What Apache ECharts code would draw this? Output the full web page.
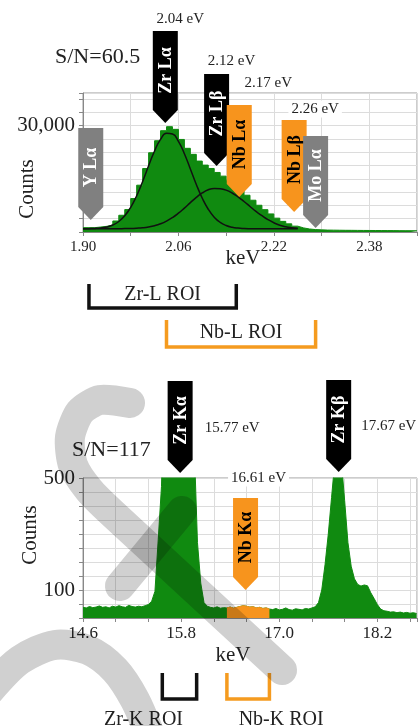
<!DOCTYPE html>
<html><head><meta charset="utf-8">
<script src="https://cdn.jsdelivr.net/npm/echarts@6/dist/echarts.min.js"></script>
<style>html,body{margin:0;padding:0;background:#fff}#c{width:420px;height:726px}</style>
</head><body><div id="c"></div>
<script>
// ================= DATA =================
// --- L-line spectrum (top), histogram bins (bin start keV) ---
const lBinStart = [1.90,1.91,1.92,1.93,1.94,1.95,1.96,1.97,1.98,1.99,
  2.00,2.01,2.02,2.03,2.04,2.05,2.06,2.07,2.08,2.09,
  2.10,2.11,2.12,2.13,2.14,2.15,2.16,2.17,2.18,2.19,
  2.20,2.21,2.22,2.23,2.24,2.25,2.26,2.27,2.28,2.29,
  2.30,2.31,2.32,2.33,2.34,2.35,2.36,2.37,2.38,2.39,
  2.40,2.41,2.42,2.43,2.44,2.45,2.46];
const lCounts = [1230,1230,1410,1600,1980,3110,4720,6320,9430,13200,
  17900,22350,25740,28570,29700,28950,26100,23600,21900,20000,
  18860,17920,16790,15750,14620,13200,11790,10370,8960,7540,
  6300,5100,3900,3000,2300,1650,1150,850,680,600,
  540,520,500,480,470,450,440,430,420,410,
  400,390,380,370,360,350,350];
// fitted peaks (Zr Lα and Zr Lβ components)
const fitKeV = [1.90,1.91,1.92,1.93,1.94,1.95,1.96,1.97,1.98,1.99,
  2.00,2.01,2.02,2.03,2.04,2.05,2.06,2.07,2.08,2.09,
  2.10,2.11,2.12,2.13,2.14,2.15,2.16,2.17,2.18,2.19,
  2.20,2.21,2.22,2.23,2.24,2.25,2.26];
const fitZrLa = [900,940,1000,1135,1420,1980,2960,4570,6970,10240,
  14260,18670,22860,26130,27840,27650,25580,22070,17790,13410,
  9520,6420,4190,2720,1840,1350,1100,985,935,915,
  905,900,900,900,900,900,900];
const fitZrLb = [900,900,900,900,905,910,930,955,990,1070,
  1190,1415,1770,2310,3070,4070,5310,6750,8275,9755,
  11015,11900,12300,12200,11800,11000,9900,8600,7200,5800,
  4600,3500,2600,1900,1450,1200,1050];
// emission-line markers (top)
const lLineNames = ['Y Lα','Zr Lα','Zr Lβ','Nb Lα','Nb Lβ','Mo Lα'];
const lLineKeV   = [1.913,2.038,2.124,2.162,2.254,2.290];
const lLineKind  = ['other','Zr','Zr','Nb','Nb','other'];
const lLineText  = ['','2.04 eV','2.12 eV','2.17 eV','2.26 eV',''];
// ROIs (top)
const lRoiNames = ['Zr-L ROI','Nb-L ROI'];
const lRoiStart = [1.910,2.040];
const lRoiEnd   = [2.157,2.290];
const lRoiKind  = ['Zr','Nb'];

// --- K-line spectrum (bottom) ---
const kKeV = [14.60,14.64,14.68,14.72,14.76,14.80,14.84,14.88,14.92,14.96,
  15.00,15.04,15.08,15.12,15.16,15.20,15.24,15.28,15.32,15.36,
  15.40,15.44,15.48,15.52,15.56,15.60,15.64,15.68,15.72,15.76,
  15.80,15.84,15.88,15.92,15.96,16.00,16.04,16.08,16.12,16.16,
  16.20,16.24,16.28,16.32,16.36,16.40,16.44,16.48,16.52,16.56,
  16.60,16.64,16.68,16.72,16.76,16.80,16.84,16.88,16.92,16.96,
  17.00,17.04,17.08,17.12,17.16,17.20,17.24,17.28,17.32,17.36,
  17.40,17.44,17.48,17.52,17.56,17.60,17.64,17.68,17.72,17.76,
  17.80,17.84,17.88,17.92,17.96,18.00,18.04,18.08,18.12,18.16,
  18.20,18.24,18.28,18.32,18.36,18.40,18.44,18.48,18.52,18.56,
  18.60,18.64,18.68];
const kCounts = [38,36,41,37,39,43,38,40,36,42,
  39,44,40,38,45,41,39,42,40,44,
  48,60,95,280,470,900,1600,2400,3100,3400,
  3300,2800,2100,1300,620,270,125,55,42,38,
  36,40,35,37,36,39,35,38,41,44,
  42,39,40,36,38,34,36,32,30,34,
  29,31,36,30,28,33,31,29,34,32,
  36,40,55,100,190,300,430,560,620,560,
  420,270,185,140,120,114,118,115,90,70,
  48,32,26,24,21,22,19,21,18,20,
  17,19,16];
const kLineNames = ['Zr Kα','Nb Kα','Zr Kβ'];
const kLineKeV   = [15.788,16.588,17.727];
const kLineKind  = ['Zr','Nb','Zr'];
const kLineText  = ['15.77 eV','16.61 eV','17.67 eV'];
const kRoiNames = ['Zr-K ROI','Nb-K ROI'];
const kRoiStart = [15.57,16.36];
const kRoiEnd   = [15.99,16.88];
const kRoiKind  = ['Zr','Nb'];

// axis tick labels
const lXTickLabels = ['1.90','2.06','2.22','2.38'];
const kXTickLabels = ['14.6','15.8','17.0','18.2'];
const lYTickValues = [30000], lYTickLabels = ['30,000'];
const kYTickValues = [100,500], kYTickLabels = ['100','500'];
const snTop = 'S/N=60.5', snBottom = 'S/N=117';

// ================= LAYOUT / STYLE =================
const SERIF = '"Liberation Serif","Times New Roman",serif';
const GREEN = '#108a10', ORANGE = '#f7941d', GRAYM = '#808080';
const KIND = {Zr:{fill:'#000',text:'#fff',roi:'#111'}, Nb:{fill:ORANGE,text:'#000',roi:'#f59b1f'}, other:{fill:GRAYM,text:'#fff',roi:'#888'}};
const MARK = {w:25, h:92, arrow:13};
// tip heights (in counts) and eV-label offsets (px from tip)
const lTip = [3400,30740,18610,9870,5640,1130];
const lTextOff = [null,[15,-104],[15,-105],[29,-114],[21,-103],null];
const kTip = [518,100,521];
const kTextOff = [[52,-45],[13,-112],[50,-46]];
const lRoiStyle = [{top:52,bottom:76,dx:0,ly:63},{top:88,bottom:115,dx:0,ly:101}];
const kRoiStyle = [{top:55,bottom:81,dx:-36,ly:102},{top:55,bottom:81,dx:33,ly:102}];

const LX = {min:1.90,max:2.46,step:0.08}, KX = {min:14.6,max:18.685,step:0.4};

function markerRender(names, kinds, texts, offs) {
  return function (params, api) {
    const i = params.dataIndex;
    const p = api.coord([api.value(0), api.value(1)]);
    const x = p[0], y = p[1], w = MARK.w, h = MARK.h, a = MARK.arrow;
    const k = KIND[kinds[i]];
    const kids = [
      {type:'polygon', shape:{points:[[x-w/2,y-h],[x+w/2,y-h],[x+w/2,y-a],[x,y],[x-w/2,y-a]]}, style:{fill:k.fill}},
      {type:'text', x:x+1, y:y-(h+a)/2, rotation:Math.PI/2,
       style:{text:names[i], fill:k.text, fontSize:18, fontWeight:'bold', fontFamily:SERIF, align:'center', verticalAlign:'middle'}}
    ];
    if (texts[i]) {
      const o = offs[i];
      kids.push({type:'text', x:x+o[0], y:y+o[1], z2:5,
        style:{text:texts[i], fill:'#222', fontSize:15, fontFamily:SERIF, align:'center', verticalAlign:'middle', backgroundColor:'#fff', padding:[1,3]}});
    }
    return {type:'group', children:kids};
  };
}
function roiRender(names, kinds, styles) {
  return function (params, api) {
    const i = params.dataIndex, cs = params.coordSys, st = styles[i];
    const x0 = api.coord([api.value(0), 0])[0], x1 = api.coord([api.value(1), 0])[0];
    const base = cs.y + cs.height, t = base + st.top, b = base + st.bottom;
    const col = KIND[kinds[i]].roi;
    return {type:'group', children:[
      {type:'polyline', shape:{points:[[x0,t],[x0,b],[x1,b],[x1,t]]}, style:{stroke:col, lineWidth:3.5, fill:null}},
      {type:'text', x:(x0+x1)/2+st.dx, y:base+st.ly, style:{text:names[i], fill:'#222', fontSize:20, fontFamily:SERIF, align:'center', verticalAlign:'middle'}}
    ]};
  };
}
function dispX(gridIndex, X, labels, every, fs, margin) {
  return {type:'value', gridIndex, min:0, max:+(X.max-X.min).toFixed(3), interval:X.step, position:'bottom',
    axisLine:{lineStyle:{color:'#888'}}, axisTick:{length:4, lineStyle:{color:'#888'}},
    splitLine:{show:true, lineStyle:{color:'#dcdcdc'}},
    axisLabel:{fontSize:fs, fontFamily:SERIF, color:'#222', margin, showMaxLabel:true,
      formatter:v => { const k = Math.round(v / X.step); return k % every === 0 && labels[k/every] ? labels[k/every] : ''; }}};
}
function dataX(gridIndex, X) { return {type:'value', gridIndex, min:X.min, max:X.max, position:'top', show:false}; }
function yAx(gridIndex, max, interval, vals, labels) {
  return {type:'value', gridIndex, min:0, max, interval,
    axisLine:{show:true, lineStyle:{color:'#888'}}, axisTick:{show:true, length:4, lineStyle:{color:'#888'}},
    splitLine:{lineStyle:{color:'#dcdcdc'}},
    axisLabel:{fontSize:21, fontFamily:SERIF, color:'#222', margin:8,
      formatter:v => { const i = vals.indexOf(Math.round(v)); return i >= 0 ? labels[i] : ''; }}};
}

const lHist = lBinStart.map((e,i) => [e, lCounts[i]]);
const kHist = kKeV.map((e,i) => [e, kCounts[i]]);
const nbIdx = kRoiKind.indexOf('Nb');
const kHistNb = kHist.filter(d => d[0] >= kRoiStart[nbIdx] - 1e-9 && d[0] <= kRoiEnd[nbIdx] + 1e-9);

const WM = {stroke:'#d0d0d0', lineWidth:30, fill:null, lineCap:'round', lineJoin:'round', blend:'multiply'};
const option = {
  animation:false,
  grid:[
    {left:83, top:93, right:0, height:139, show:true, borderColor:'#9a9a9a', borderWidth:1},
    {left:83, top:478, right:0, height:140, show:true, borderColor:'#9a9a9a', borderWidth:1}
  ],
  xAxis:[dataX(0,LX), dispX(0,LX,lXTickLabels,2,15,8), dataX(1,KX), dispX(1,KX,kXTickLabels,3,17,7)],
  yAxis:[yAx(0,39200,3750,lYTickValues,lYTickLabels), yAx(1,500,50,kYTickValues,kYTickLabels)],
  series:[
    {type:'line', xAxisIndex:0, yAxisIndex:0, data:lHist, step:'end', symbol:'none',
      lineStyle:{color:GREEN,width:1}, areaStyle:{color:GREEN,opacity:1}, z:2},
    {type:'line', xAxisIndex:0, yAxisIndex:0, data:fitKeV.map((e,i)=>[e,fitZrLa[i]]), smooth:true, symbol:'none',
      lineStyle:{color:'#111',width:1.5}, z:3},
    {type:'line', xAxisIndex:0, yAxisIndex:0, data:fitKeV.map((e,i)=>[e,fitZrLb[i]]), smooth:true, symbol:'none',
      lineStyle:{color:'#111',width:1.5}, z:3},
    {type:'custom', xAxisIndex:0, yAxisIndex:0, data:lLineKeV.map((e,i)=>[e,lTip[i]]),
      renderItem:markerRender(lLineNames,lLineKind,lLineText,lTextOff), clip:false, z:5},
    {type:'custom', xAxisIndex:0, yAxisIndex:0, data:lRoiStart.map((s,i)=>[s,lRoiEnd[i],0]), encode:{x:[0,1],y:2},
      renderItem:roiRender(lRoiNames,lRoiKind,lRoiStyle), clip:false, z:5},
    {type:'line', xAxisIndex:2, yAxisIndex:1, data:kHist, symbol:'none',
      lineStyle:{color:GREEN,width:1}, areaStyle:{color:GREEN,opacity:1}, z:2},
    {type:'line', xAxisIndex:2, yAxisIndex:1, data:kHistNb, symbol:'none',
      lineStyle:{color:ORANGE,width:1}, areaStyle:{color:ORANGE,opacity:1}, z:3},
    {type:'custom', xAxisIndex:2, yAxisIndex:1, data:kLineKeV.map((e,i)=>[e,kTip[i]]),
      renderItem:markerRender(kLineNames,kLineKind,kLineText,kTextOff), clip:false, z:5},
    {type:'custom', xAxisIndex:2, yAxisIndex:1, data:kRoiStart.map((s,i)=>[s,kRoiEnd[i],0]), encode:{x:[0,1],y:2},
      renderItem:roiRender(kRoiNames,kRoiKind,kRoiStyle), clip:false, z:5}
  ],
  graphic:[
    {type:'text', x:55, y:57, style:{text:snTop, fontSize:22, fontFamily:SERIF, fill:'#222', verticalAlign:'middle'}},
    {type:'text', x:72, y:450, style:{text:snBottom, fontSize:22, fontFamily:SERIF, fill:'#222', verticalAlign:'middle'}},
    {type:'text', x:27, y:189, rotation:Math.PI/2, style:{text:'Counts', fontSize:21, fontFamily:SERIF, fill:'#222', align:'center', verticalAlign:'middle'}},
    {type:'text', x:30, y:535, rotation:Math.PI/2, style:{text:'Counts', fontSize:21, fontFamily:SERIF, fill:'#222', align:'center', verticalAlign:'middle'}},
    {type:'text', x:243, y:258, style:{text:'keV', fontSize:21, fontFamily:SERIF, fill:'#222', align:'center', verticalAlign:'middle'}},
    {type:'text', x:233, y:655, style:{text:'keV', fontSize:21, fontFamily:SERIF, fill:'#222', align:'center', verticalAlign:'middle'}},
    // watermark strokes
    {type:'polyline', z:100, shape:{points:[[130,403],[100,400],[80,412],[70,437],[73,465],[89,490],[112,513],[282,670]], smooth:0.25}, style:WM},
    {type:'polyline', z:100, shape:{points:[[182,511],[120,586]]}, style:WM},
    {type:'polyline', z:100, shape:{points:[[-10,690],[20,660],[55,645],[88,650],[115,670],[135,700],[150,735]], smooth:0.3}, style:WM}
  ]
};
const chart = echarts.init(document.getElementById('c'), null, {renderer:'canvas'});
chart.setOption(option);
</script></body></html>
